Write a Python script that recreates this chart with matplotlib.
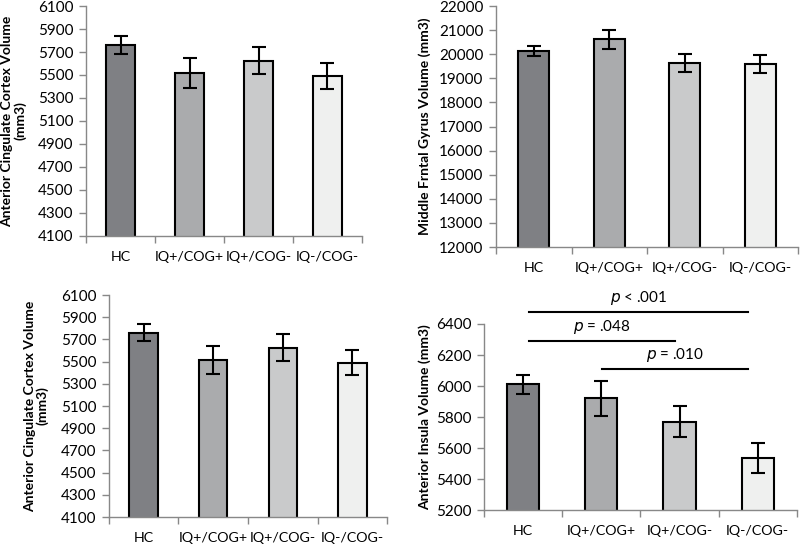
import matplotlib
matplotlib.use("Agg")
import matplotlib.pyplot as plt
import numpy as np

plt.rcParams['font.family'] = ['Lato', 'DejaVu Sans']

categories = ["HC", "IQ+/COG+", "IQ+/COG-", "IQ-/COG-"]
colors = ["#7f8084", "#aaabad", "#c9cacb", "#eff0ef"]

acc_vals = [5760, 5515, 5625, 5490]
acc_err = [75, 130, 120, 113]
acc_ticks = list(range(4100, 6101, 200))

mfg_vals = [20120, 20620, 19640, 19610]
mfg_err = [200, 390, 360, 370]
mfg_ticks = list(range(12000, 22001, 1000))

ins_vals = [6010, 5920, 5770, 5535]
ins_err = [60, 115, 100, 95]
ins_ticks = list(range(5200, 6401, 200))

sig_labels = ["p < .001", "p = .048", "p = .010"]
sig_y = [6477, 6290, 6110]
sig_x0 = [0.08, 0.08, 1.01]
sig_x1 = [2.87, 1.94, 2.87]

fig = plt.figure(figsize=(8, 5.46), dpi=100)

def panel(rect, vals, errs, ticks, ylabel):
    ax = fig.add_axes(rect)
    x = np.arange(len(categories))
    ax.bar(x, vals, width=0.41, color=colors, edgecolor="black", linewidth=1.5, zorder=2)
    ax.errorbar(x, vals, yerr=errs, fmt="none", ecolor="black", elinewidth=1.5,
                capsize=5, capthick=1.5, zorder=3)
    ax.set_xlim(-0.5, 3.5)
    ax.set_ylim(ticks[0], ticks[-1])
    ax.set_yticks(ticks)
    ax.set_yticklabels([str(t) for t in ticks], fontsize=11)
    ax.set_xticks(x)
    ax.set_xticklabels(categories, fontsize=10.3)
    ax.set_xticks(np.arange(-0.5, 4.0, 1.0), minor=True)
    ax.tick_params(axis="x", which="major", length=0, pad=11)
    ax.tick_params(axis="x", which="minor", length=5, color="#888888", width=1)
    ax.tick_params(axis="y", length=5, color="#888888", width=1, pad=4)
    for s in ["top", "right"]:
        ax.spines[s].set_visible(False)
    for s in ["left", "bottom"]:
        ax.spines[s].set_color("#888888")
        ax.spines[s].set_linewidth(1)
    ax.set_ylabel(ylabel, fontsize=10, fontweight="bold", linespacing=1.05)
    return ax

ax1 = panel([0.1075, 0.5678, 0.345, 0.4212], acc_vals, acc_err, acc_ticks,
            "Anterior Cingulate Cortex Volume\n(mm3)")
ax1.yaxis.set_label_coords(-0.215, 0.5)
ax2 = panel([0.62, 0.5476, 0.3775, 0.4414], mfg_vals, mfg_err, mfg_ticks,
            "Middle Frntal Gyrus Volume (mm3)")
ax2.yaxis.set_label_coords(-0.215, 0.5)
ax3 = panel([0.136, 0.0531, 0.348, 0.4066], acc_vals, acc_err, acc_ticks,
            "Anterior Cingulate Cortex Volume\n(mm3)")
ax3.yaxis.set_label_coords(-0.215, 0.5)
ax4 = panel([0.605, 0.0659, 0.391, 0.3407], ins_vals, ins_err, ins_ticks,
            "Anterior Insula Volume (mm3)")
ax4.yaxis.set_label_coords(-0.17, 0.5)

for lab, y, a, b in zip(sig_labels, sig_y, sig_x0, sig_x1):
    ax4.plot([a, b], [y, y], color="black", linewidth=1.5, clip_on=False)
    p, rest = lab.split(" ", 1)
    ax4.text((a + b) / 2, y + 35, r"$\it{p}$ " + rest, ha="center", va="bottom",
             fontsize=11, clip_on=False)

fig.savefig("out.png", dpi=100)
